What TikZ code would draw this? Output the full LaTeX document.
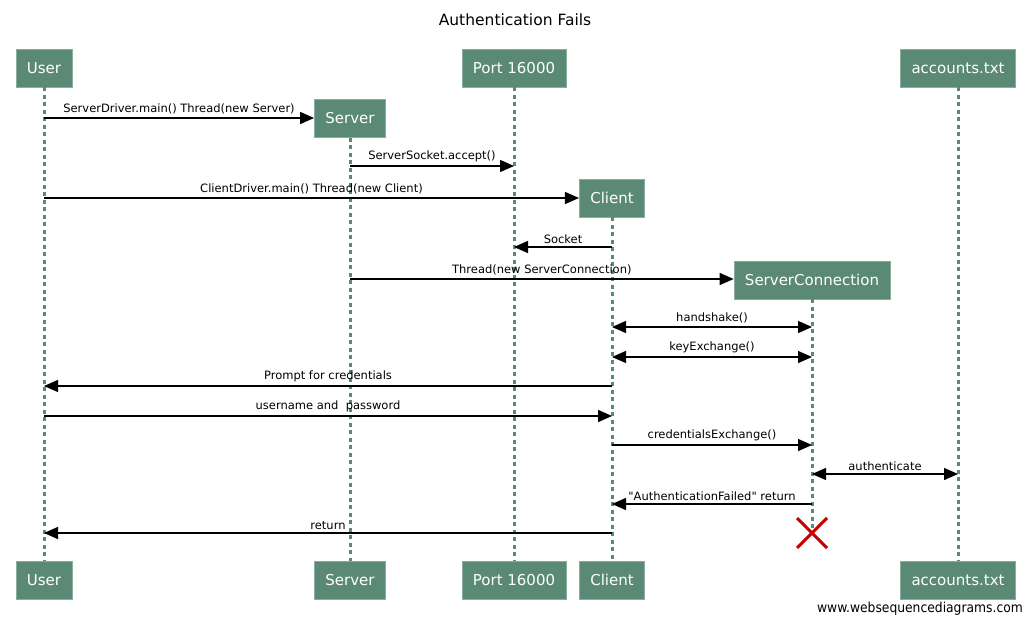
\documentclass[tikz,border=0pt]{standalone}
\usepackage{fontspec}
\setmainfont{DejaVu Sans}
\newfontfamily\condfont{DejaVu Sans Condensed}
\usetikzlibrary{arrows.meta,calc}
\definecolor{boxfill}{RGB}{90,138,117}
\definecolor{lifecol}{RGB}{90,138,117}
\definecolor{xred}{RGB}{200,0,0}
\tikzset{
  actor/.style={fill=boxfill, draw=boxfill!70!white, line width=0.6pt, text=white, font=\fontsize{15}{15}\selectfont, minimum height=38pt, inner xsep=11pt, anchor=center},
  life/.style={draw=lifecol, line width=3pt, dash pattern=on 4pt off 3.5pt},
  msg/.style={draw=black, line width=1.4pt, -{Triangle[length=14pt,width=12pt]}},
  bimsg/.style={draw=black, line width=1.4pt, {Triangle[length=14pt,width=12pt]}-{Triangle[length=14pt,width=12pt]}},
  lbl/.style={font=\fontsize{11.5}{11.5}\selectfont, inner sep=0pt, anchor=base},
}
\begin{document}
\begin{tikzpicture}[x=1pt,y=-1pt]
\useasboundingbox[fill=white] (0,0) rectangle (1031,623);
\node[font=\fontsize{15.5}{15.5}\selectfont] (title) at (515,20) {Authentication Fails};
% top boxes
\node[actor] (userT) at (44,68) {User};
\node[actor] (portT) at (514,68) {Port 16000};
\node[actor] (accT) at (958,68) {accounts.txt};
\node[actor] (serverT) at (350,118.5) {Server};
\node[actor] (clientT) at (612,198) {Client};
\node[actor] (scT) at (812,280) {ServerConnection};
% bottom boxes
\node[actor] (userB) at (44,580) {User};
\node[actor] (serverB) at (350,580) {Server};
\node[actor] (portB) at (514,580) {Port 16000};
\node[actor] (clientB) at (612,580) {Client};
\node[actor] (accB) at (958,580) {accounts.txt};
\coordinate (scEnd) at (812,533);
% lifelines
\draw[life] (userT.south) -- (userB.north);
\draw[life] (serverT.south) -- (serverB.north);
\draw[life] (portT.south) -- (portB.north);
\draw[life] (clientT.south) -- (clientB.north);
\draw[life] (accT.south) -- (accB.north);
\draw[life] (scT.south) -- (scEnd);
% message coordinates
\coordinate (u1) at (44,118); \coordinate (u3) at (44,198);
\coordinate (u8) at (44,386); \coordinate (u9) at (44,416); \coordinate (u13) at (44,533);
\coordinate (s2) at (350,166); \coordinate (s5) at (350,279);
\coordinate (p2) at (514,166); \coordinate (p4) at (514,247);
\coordinate (c4) at (612,247); \coordinate (c6) at (612,327); \coordinate (c7) at (612,357);
\coordinate (c8) at (612,386); \coordinate (c9) at (612,416); \coordinate (c10) at (612,445);
\coordinate (c12) at (612,504); \coordinate (c13) at (612,533);
\coordinate (k6) at (812,327); \coordinate (k7) at (812,357); \coordinate (k10) at (812,445);
\coordinate (k11) at (812,474); \coordinate (k12) at (812,504);
\coordinate (a11) at (958,474);
% messages
\draw[msg] (u1) -- node[lbl, above=3pt] {ServerDriver.main() Thread(new Server)} (u1 -| serverT.west);
\draw[msg] (s2) -- node[lbl, above=3pt] {ServerSocket.accept()} (p2);
\draw[msg] (u3) -- node[lbl, above=3pt] {ClientDriver.main() Thread(new Client)} (u3 -| clientT.west);
\draw[msg] (c4) -- node[lbl, above=3pt] {Socket} (p4);
\draw[msg] (s5) -- node[lbl, above=3pt] {Thread(new ServerConnection)} (s5 -| scT.west);
\draw[bimsg] (c6) -- node[lbl, above=3pt] {handshake()} (k6);
\draw[bimsg] (c7) -- node[lbl, above=3pt] {keyExchange()} (k7);
\draw[msg] (c8) -- node[lbl, above=3pt] {Prompt for credentials} (u8);
\draw[msg] (u9) -- node[lbl, above=3pt] {username and\ \ password} (c9);
\draw[msg] (c10) -- node[lbl, above=3pt] {credentialsExchange()} (k10);
\draw[bimsg] (k11) -- node[lbl, above=3pt] {authenticate} (a11);
\draw[msg] (k12) -- node[lbl, above=3pt] {\textquotedbl AuthenticationFailed\textquotedbl{} return} (c12);
\draw[msg] (c13) -- node[lbl, above=3pt] {return} (u13);
% destroy mark
\draw[xred, line width=3pt] ($(scEnd)+(-15,-15)$) -- ($(scEnd)+(15,15)$);
\draw[xred, line width=3pt] ($(scEnd)+(-15,15)$) -- ($(scEnd)+(15,-15)$);
\node[font=\condfont\fontsize{13.7}{13.7}\selectfont, anchor=east, inner sep=0pt] (wm) at (1023,609) {www.websequencediagrams.com};
\end{tikzpicture}
\end{document}
